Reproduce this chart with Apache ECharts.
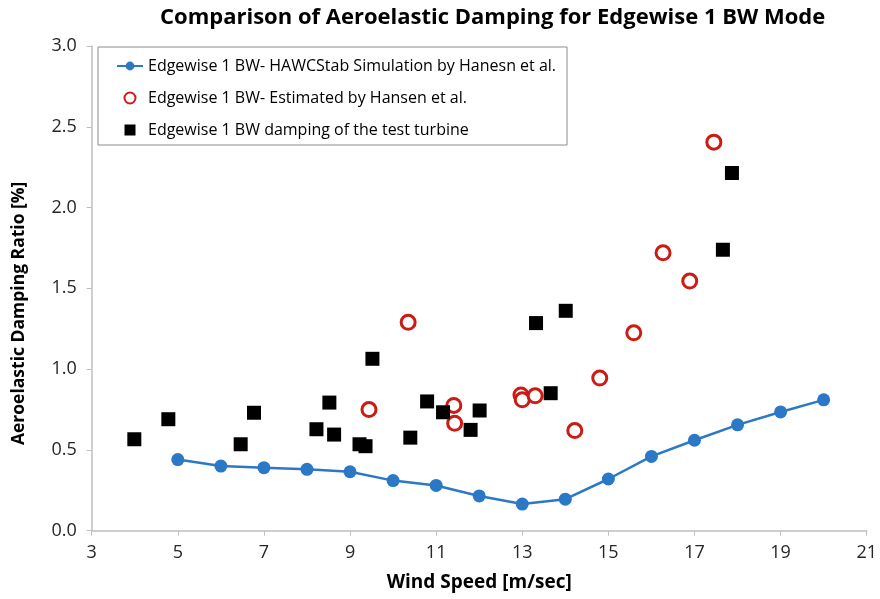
<!DOCTYPE html>
<html>
<head>
<meta charset="utf-8">
<script src="https://cdn.jsdelivr.net/npm/echarts@6/dist/echarts.min.js"></script>
<style>html,body{margin:0;padding:0;background:#fff;}#c{width:880px;height:599px;}</style>
</head>
<body>
<div id="c"></div>
<script>
const xTicks = [3, 5, 7, 9, 11, 13, 15, 17, 19, 21];
const yTicks = [0.0, 0.5, 1.0, 1.5, 2.0, 2.5, 3.0];

const simWind = [5, 6, 7, 8, 9, 10, 11, 12, 13, 14, 15, 16, 17, 18, 19, 20];
const simDamping = [0.44, 0.40, 0.39, 0.38, 0.365, 0.31, 0.28, 0.215, 0.165, 0.195, 0.32, 0.46, 0.56, 0.655, 0.735, 0.81];

const estWind = [9.44, 10.35, 11.41, 11.43, 12.97, 13.0, 13.3, 14.22, 14.8, 15.59, 16.27, 16.89, 17.45];
const estDamping = [0.75, 1.29, 0.775, 0.665, 0.84, 0.81, 0.835, 0.62, 0.945, 1.225, 1.72, 1.545, 2.405];

const testWind = [3.99, 4.78, 6.46, 6.77, 8.22, 8.52, 8.63, 9.22, 9.36, 9.52, 10.40, 10.79, 11.16, 11.80, 12.01, 13.32, 13.66, 14.01, 17.66, 17.87];
const testDamping = [0.566, 0.69, 0.535, 0.73, 0.628, 0.793, 0.595, 0.535, 0.523, 1.064, 0.576, 0.80, 0.733, 0.624, 0.744, 1.285, 0.851, 1.361, 1.739, 2.214];

const names = [
  'Edgewise 1 BW- HAWCStab Simulation by Hanesn et al.',
  'Edgewise 1 BW- Estimated by Hansen et al.',
  'Edgewise 1 BW damping of the test turbine'
];

const zip = (a, b) => a.map((v, i) => [v, b[i]]);
const FONT = 'Open Sans';

const chart = echarts.init(document.getElementById('c'));
chart.setOption({
  animation: false,
  backgroundColor: '#fff',
  title: {
    text: 'Comparison of Aeroelastic Damping for Edgewise 1 BW Mode',
    left: 155, top: 2,
    textStyle: { fontFamily: FONT, fontSize: 22, fontWeight: 'bold', color: '#000' }
  },
  grid: { left: 91.7, right: 12.7, top: 46, bottom: 68.3, containLabel: false },
  legend: {
    orient: 'vertical', left: 111, top: 53,
    itemWidth: 26, itemHeight: 11, itemGap: 16,
    symbolKeepAspect: true,
    textStyle: { fontFamily: FONT, fontSize: 16, color: '#000' },
    data: [
      { name: names[0] },
      { name: names[1] },
      { name: names[2], icon: 'path://M0,0L10,0L10,10L0,10Z' }
    ]
  },
  graphic: [{
    type: 'rect', shape: { x: 98, y: 47, width: 469, height: 98 },
    style: { fill: 'rgba(0,0,0,0)', stroke: '#8c8c8c', lineWidth: 1 }, z: 0
  }],
  xAxis: {
    type: 'value', min: xTicks[0], max: xTicks[xTicks.length - 1], interval: 2,
    name: 'Wind Speed [m/sec]', nameLocation: 'middle', nameGap: 42,
    nameTextStyle: { fontFamily: FONT, fontSize: 19, fontWeight: 'bold', color: '#000' },
    axisLine: { lineStyle: { color: '#bfbfbf', width: 1.5 } },
    axisTick: { show: true, length: 5, lineStyle: { color: '#bfbfbf' } },
    axisLabel: { fontFamily: FONT, fontSize: 18, color: '#262626', margin: 13 },
    splitLine: { show: false }
  },
  yAxis: {
    type: 'value', min: yTicks[0], max: yTicks[yTicks.length - 1], interval: 0.5,
    name: 'Aeroelastic Damping Ratio [%]', nameLocation: 'middle', nameGap: 64, nameRotate: 90,
    nameTextStyle: { fontFamily: FONT, fontSize: 17.5, fontWeight: 'bold', color: '#000',
      padding: [0, 50, 0, 0] },
    axisLine: { show: true, lineStyle: { color: '#bfbfbf', width: 1.5 } },
    axisTick: { show: true, length: 5, lineStyle: { color: '#bfbfbf' } },
    axisLabel: { fontFamily: FONT, fontSize: 18, color: '#262626', margin: 15,
      formatter: v => v.toFixed(1) },
    splitLine: { show: false }
  },
  series: [
    {
      name: names[0], type: 'line', data: zip(simWind, simDamping),
      symbol: 'circle', symbolSize: 13,
      lineStyle: { color: '#2a78c6', width: 2.5 },
      itemStyle: { color: '#2a78c6' }, z: 2
    },
    {
      name: names[1], type: 'scatter', data: zip(estWind, estDamping),
      symbol: 'circle', symbolSize: 14,
      itemStyle: { color: '#ffffff', borderColor: '#cc1b14', borderWidth: 3, opacity: 1 }, z: 3
    },
    {
      name: names[2], type: 'scatter', data: zip(testWind, testDamping),
      symbol: 'rect', symbolSize: 14,
      itemStyle: { color: '#000000', opacity: 1 }, z: 4
    }
  ]
});
</script>
</body>
</html>
